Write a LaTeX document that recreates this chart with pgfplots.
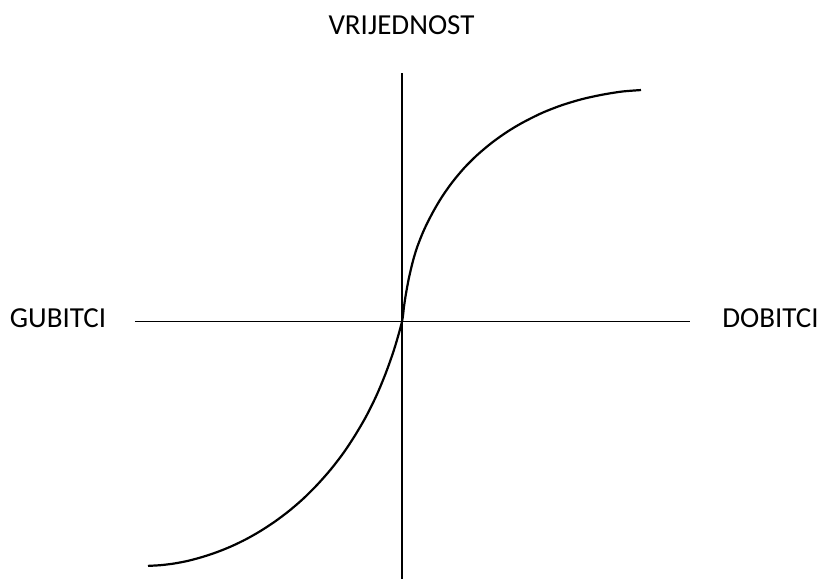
\documentclass[border=0pt]{standalone}
\usepackage{pgfplots}
\pgfplotsset{compat=1.18}
\usepackage{fontspec}
\setmainfont{Carlito}

\begin{document}
\begin{tikzpicture}
  \begin{axis}[
      scale only axis,
      width=277.5pt,
      height=253pt,
      xmin=-267, xmax=288,
      ymin=-257.5, ymax=248.5,
      axis lines=middle,
      axis line style={-, line width=0.8pt, black},
      ticks=none,
      clip=false,
    ]
    % value curve (pixel units, origin at the crossing)
    \addplot[smooth, line width=1.1pt, black] coordinates {
      (-254,-244.4) (-241.1,-243.65) (-227.7,-242) (-213.8,-239.3) (-199.7,-235.5)
      (-185.2,-230.7) (-170.6,-224.8) (-155.9,-217.7) (-141.3,-209.4) (-126.7,-199.8)
      (-112.4,-189) (-98.3,-176.8) (-84.7,-163.2) (-71.5,-148.25) (-58.8,-131.8)
      (-46.9,-113.8) (-35.6,-94.4) (-25.2,-73.3) (-15.8,-50.5) (-7.3,-26.1) (0,0)
      (2,15) (4,28) (7,43.9) (11,60.7) (15,73.9) (20,86.9) (25,97.9) (32,111.3)
      (40,124.7) (50,138.9) (62,153.3) (75,166.3) (90,178.9) (105,189.55)
      (120,198.55) (140,208.55) (160,216.35) (180,222.35) (200,226.75)
      (220,229.95) (239,231.45)
    };
    \node[anchor=base, inner sep=0, font=\fontsize{14.5}{16}\selectfont] at (axis cs:-0.5,286.5) {VRIJEDNOST};
    \node[anchor=base, inner sep=0, font=\fontsize{14.5}{16}\selectfont] at (axis cs:-344,-6.5) {GUBITCI};
    \node[anchor=base, inner sep=0, font=\fontsize{14.5}{16}\selectfont] at (axis cs:368.5,-6.5) {DOBITCI};
    \coordinate (bl) at (axis cs:-402,-257.5);
    \coordinate (tr) at (axis cs:419,321.5);
  \end{axis}
  \path (bl) rectangle (tr);
\end{tikzpicture}
\end{document}
